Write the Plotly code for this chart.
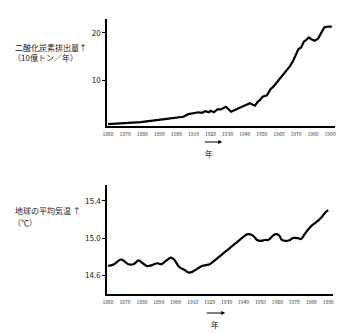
import plotly.graph_objects as go

# CO2 emissions (billion tonnes per year)
co2_years = [1860, 1879, 1892, 1904, 1907, 1913, 1915, 1917, 1919, 1920, 1922, 1924, 1926,
             1929, 1932, 1936, 1938, 1941, 1943, 1946, 1947.6, 1949, 1950.5, 1953, 1955,
             1957, 1959, 1961, 1965, 1966.6, 1968.5, 1971.4, 1973, 1974.6, 1976, 1977.6,
             1979, 1981, 1983, 1984.7, 1986.6, 1988.5, 1991]
co2_values = [0.7, 1.1, 1.7, 2.25, 2.8, 3.2, 3.1, 3.45, 3.2, 3.5, 3.2, 3.8, 3.8,
              4.35, 3.3, 4.0, 4.35, 4.9, 5.1, 4.6, 5.4, 5.8, 6.5, 6.8, 8.0,
              8.7, 9.6, 10.4, 12.1, 13.0, 14.2, 16.5, 16.9, 18.1, 18.5, 19.0,
              18.6, 18.3, 18.8, 19.9, 21.1, 21.3, 21.3]

# Global mean temperature (deg C)
temp_years = [1860, 1863.6, 1867.4, 1869, 1872, 1875, 1878, 1880.5, 1883, 1886, 1889, 1891.5,
              1894.5, 1897, 1899, 1902, 1905, 1907.6, 1910, 1912.6, 1915.5, 1918, 1920, 1923,
              1927, 1931, 1933.6, 1936.4, 1939, 1942, 1944, 1946, 1948, 1950, 1952.6, 1954.5,
              1956, 1958.5, 1961, 1962.6, 1964.6, 1967.4, 1969, 1972, 1974, 1976, 1978,
              1980.6, 1983.5, 1986.4, 1988, 1990]
temp_values = [14.70, 14.72, 14.77, 14.76, 14.72, 14.72, 14.76, 14.73, 14.70, 14.71, 14.73, 14.72,
               14.76, 14.79, 14.77, 14.69, 14.66, 14.63, 14.64, 14.67, 14.70, 14.71, 14.72, 14.76,
               14.82, 14.88, 14.92, 14.96, 15.00, 15.04, 15.04, 15.02, 14.98, 14.97, 14.98, 14.98,
               15.00, 15.04, 15.03, 14.98, 14.97, 14.98, 15.00, 15.00, 14.99, 15.04, 15.09,
               15.14, 15.18, 15.23, 15.27, 15.30]

year_ticks = list(range(1860, 2000, 10))
co2_ticks = [10, 20]
temp_ticks = [14.6, 15.0, 15.4]

FONT = "Noto Sans CJK JP"
W, H = 350, 333

fig = go.Figure()
fig.add_trace(go.Scatter(x=co2_years, y=co2_values, mode="lines",
                         line=dict(color="black", width=2.2), xaxis="x", yaxis="y"))
fig.add_trace(go.Scatter(x=temp_years, y=temp_values, mode="lines",
                         line=dict(color="black", width=2.2, shape="spline", smoothing=0.8),
                         xaxis="x2", yaxis="y2"))

xcommon = dict(range=[1859.5, 1993], tickvals=year_ticks, ticktext=[str(v) for v in year_ticks],
               showgrid=False, zeroline=False, showline=True, linecolor="black", linewidth=2,
               ticks="", tickfont=dict(size=5, color="#333", family=FONT), ticklabelstandoff=2)
ycommon = dict(showgrid=False, zeroline=False, showline=True, linecolor="black", linewidth=2,
               ticks="outside", ticklen=3, tickcolor="black", tickwidth=1,
               tickfont=dict(size=8, color="#222", family=FONT))

fig.update_layout(
    width=W, height=H, margin=dict(l=0, r=0, t=0, b=0),
    paper_bgcolor="white", plot_bgcolor="white", showlegend=False,
    xaxis=dict(domain=[104 / W, 336 / W], anchor="y", **xcommon),
    yaxis=dict(domain=[1 - 126 / H, 1 - 19 / H], anchor="x", range=[0.3, 22.9],
               tickvals=co2_ticks, **ycommon),
    xaxis2=dict(domain=[104 / W, 334 / W], anchor="y2", **xcommon),
    yaxis2=dict(domain=[1 - 294 / H, 1 - 185 / H], anchor="x2", range=[14.40, 15.57],
                tickvals=temp_ticks, ticktext=["14.6", "15.0", "15.4"], **ycommon),
)

def label(text, x, y, size=8):
    fig.add_annotation(text=text, x=x / W, y=1 - y / H, xref="paper", yref="paper",
                       xanchor="left", yanchor="middle", showarrow=False,
                       font=dict(size=size, color="#222", family=FONT))

def year_arrow(x0, x1, y, ty, tx):
    fig.add_annotation(x=x1 / W, y=1 - y / H, ax=x0 - x1, ay=0,
                       xref="paper", yref="paper",
                       text="", showarrow=True, arrowhead=2, arrowsize=0.8,
                       arrowwidth=1, arrowcolor="black")
    fig.add_annotation(text="年", x=tx / W, y=1 - ty / H, xref="paper", yref="paper",
                       xanchor="center", yanchor="middle",
                       showarrow=False, font=dict(size=8, color="#222", family=FONT))

label("二酸化炭素排出量↑", 8, 47)
label("（10億トン／年）", 6, 57)
year_arrow(202, 221, 142, 153, 208)

label("地球の平均気温 ↑", 8, 210)
label("（℃）", 6, 222)
year_arrow(204, 224, 313, 324, 214)

fig.write_html("out.html")
